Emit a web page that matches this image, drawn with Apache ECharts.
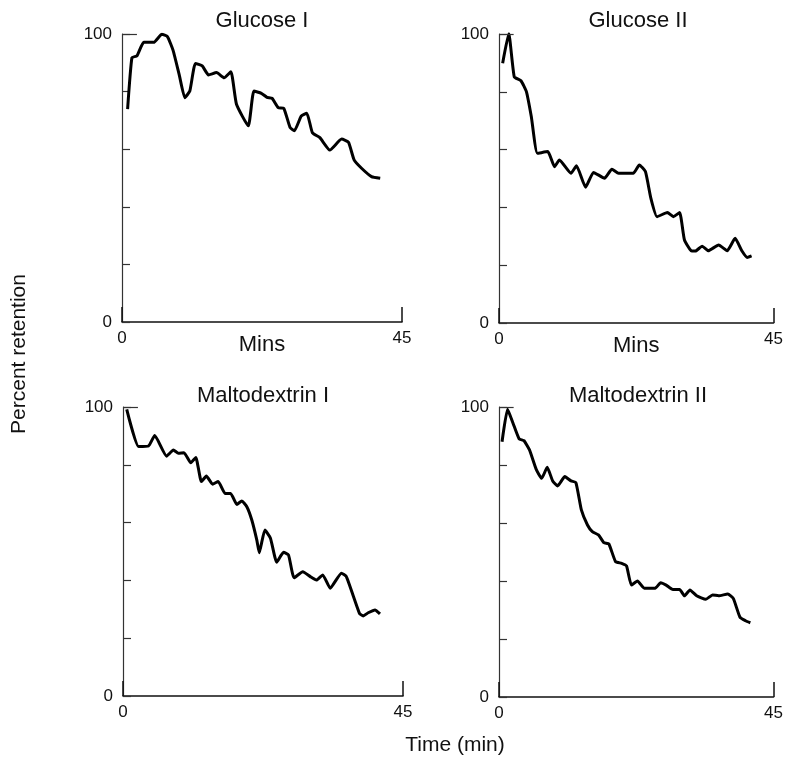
<!DOCTYPE html>
<html>
<head>
<meta charset="utf-8">
<script src="https://cdn.jsdelivr.net/npm/echarts@6/dist/echarts.min.js"></script>
<style>
  html, body { margin: 0; padding: 0; background: #fff; }
  #chart { width: 786px; height: 757px; }
</style>
</head>
<body>
<div id="chart"></div>
<script>
// panel titles
const panelTitles = ['Glucose I', 'Glucose II', 'Maltodextrin I', 'Maltodextrin II'];

// [time (min), percent retention]
const glucose1 = [
  [0.9, 73.9], [1.6, 91.8], [2.4, 92.4], [3.5, 97.1], [5.1, 97.1], [6.4, 99.9], [7.3, 99.1],
  [8.2, 94.4], [9.2, 85.8], [10.1, 77.9], [10.9, 80.2], [11.8, 89.8], [12.9, 88.9], [13.9, 85.8],
  [15.2, 86.6], [16.4, 84.8], [17.5, 86.9], [18.4, 75.6], [20.3, 68.1], [21.2, 80.2], [22.4, 79.4],
  [23.3, 78.0], [24.1, 77.7], [25.1, 74.4], [26.0, 74.2], [27.0, 67.6], [27.7, 66.4], [28.8, 71.5],
  [29.7, 72.5], [30.6, 65.7], [31.8, 64.0], [33.4, 59.7], [35.3, 63.5], [36.4, 62.4], [37.3, 56.3],
  [38.5, 53.4], [40.1, 50.5], [41.5, 49.9]
];
const glucose2 = [
  [0.6, 89.9], [1.6, 100.2], [2.5, 85.2], [3.6, 83.8], [4.5, 80.0], [5.3, 71.4], [6.3, 58.7],
  [8.0, 59.3], [9.1, 54.1], [9.9, 56.4], [11.8, 51.8], [12.7, 54.4], [14.2, 47.0], [15.5, 52.1],
  [17.3, 50.1], [18.5, 53.2], [19.6, 51.8], [22.0, 51.8], [23.0, 54.7], [24.0, 52.4], [24.9, 43.1],
  [25.9, 36.8], [27.6, 38.2], [28.6, 36.8], [29.6, 38.2], [30.4, 28.7], [31.5, 25.0], [32.2, 24.9],
  [33.3, 26.6], [34.3, 25.0], [36.0, 27.0], [37.4, 25.0], [38.7, 29.3], [39.8, 25.0], [40.7, 22.7],
  [41.4, 23.2]
];
const malto1 = [
  [0.6, 99.2], [2.5, 86.3], [4.1, 86.5], [5.1, 90.1], [7.0, 83.0], [8.1, 85.1], [8.9, 84.0],
  [9.8, 84.2], [10.9, 80.7], [11.7, 82.5], [12.6, 74.2], [13.4, 76.1], [14.4, 73.3], [15.3, 74.2],
  [16.4, 70.1], [17.3, 70.1], [18.3, 66.3], [19.1, 67.5], [19.9, 65.5], [20.7, 60.9], [21.5, 54.0],
  [21.9, 49.6], [22.8, 57.4], [23.7, 54.6], [24.7, 46.3], [25.8, 49.7], [26.6, 48.8], [27.5, 40.9],
  [28.9, 43.0], [30.1, 41.3], [31.1, 40.1], [32.1, 41.9], [33.3, 37.3], [35.1, 42.5], [35.9, 41.3],
  [38.0, 28.6], [38.6, 27.7], [39.4, 28.8], [40.5, 29.8], [41.3, 28.4]
];
const malto2 = [
  [0.5, 88.0], [1.4, 99.2], [2.3, 94.4], [3.3, 89.0], [4.1, 88.4], [5.0, 85.2], [6.1, 78.5],
  [7.0, 75.4], [7.9, 79.2], [8.8, 74.5], [9.6, 72.8], [10.8, 76.0], [11.8, 74.5], [12.6, 74.0],
  [13.5, 64.5], [14.5, 59.3], [15.3, 57.0], [16.3, 55.9], [17.2, 53.2], [18.0, 52.8], [19.1, 46.7],
  [20.1, 46.1], [20.9, 45.2], [21.7, 38.6], [22.7, 40.0], [23.8, 37.5], [25.6, 37.5], [26.5, 39.4],
  [27.4, 38.6], [28.5, 37.1], [29.6, 37.1], [30.4, 34.9], [31.3, 36.9], [32.4, 34.9], [33.9, 33.7],
  [35.0, 35.2], [36.0, 34.9], [37.5, 35.5], [38.4, 34.0], [39.5, 27.5], [40.4, 26.3], [41.2, 25.6]
];
const allSeries = [glucose1, glucose2, malto1, malto2];

// axis ranges and labelled ticks
const xRange = [0, 45];
const yRange = [0, 100];
const yStep = 20;

const grids = [
  { left: 122, top: 34, width: 280, height: 288 },
  { left: 499, top: 34, width: 278, height: 289 },
  { left: 123, top: 407, width: 280, height: 289 },
  { left: 499, top: 407, width: 278, height: 290 }
];

const font = 'Liberation Sans, Arial, sans-serif';
const ink = '#111';

const chart = echarts.init(document.getElementById('chart'));

const option = {
  animation: false,
  backgroundColor: '#fff',
  title: panelTitles.map((t, i) => ({
    text: t,
    left: grids[i].left + grids[i].width / 2,
    top: grids[i].top - (i < 2 ? 24 : 22),
    padding: 0,
    textAlign: 'center',
    textStyle: { fontFamily: font, fontSize: 22, fontWeight: 'normal', color: ink }
  })),
  grid: grids,
  xAxis: grids.map((g, i) => ({
    type: 'value',
    gridIndex: i,
    min: xRange[0],
    max: xRange[1],
    interval: 45,
    name: i < 2 ? 'Mins' : '',
    nameLocation: 'middle',
    nameGap: 12,
    nameMoveOverlap: false,
    nameTextStyle: { fontFamily: font, fontSize: 22, color: ink, verticalAlign: 'top' },
    axisLine: { lineStyle: { color: ink, width: 1.6 } },
    axisTick: { inside: true, length: 15, lineStyle: { color: ink, width: 1.5 } },
    axisLabel: { fontFamily: font, fontSize: 17, color: ink, margin: 8 },
    splitLine: { show: false }
  })),
  yAxis: grids.map((g, i) => ({
    type: 'value',
    gridIndex: i,
    min: yRange[0],
    max: yRange[1],
    interval: yStep,
    axisLine: { show: true, lineStyle: { color: '#333', width: 1.2 } },
    axisTick: { show: true, inside: true, length: 8, lineStyle: { color: '#333', width: 1.2 } },
    axisLabel: {
      fontFamily: font, fontSize: 17, color: ink, margin: 10,
      formatter: v => (v === yRange[0] || v === yRange[1]) ? String(v) : ''
    },
    splitLine: { show: false }
  })),
  graphic: [
    {
      type: 'text', x: 19, y: 354, rotation: Math.PI / 2,
      style: { text: 'Percent retention', font: '21px Liberation Sans, Arial, sans-serif', fill: ink, textAlign: 'center', textVerticalAlign: 'middle' }
    },
    {
      type: 'text', x: 455, y: 745,
      style: { text: 'Time (min)', font: '21px Liberation Sans, Arial, sans-serif', fill: ink, textAlign: 'center', textVerticalAlign: 'middle' }
    }
  ],
  series: allSeries.map((d, i) => ({
    type: 'line',
    xAxisIndex: i,
    yAxisIndex: i,
    data: d,
    showSymbol: false,
    smooth: 0.15,
    lineStyle: { color: '#000', width: 3 },
    markLine: {
      silent: true,
      symbol: 'none',
      label: { show: false },
      lineStyle: { color: '#333', width: 1.2, type: 'solid' },
      data: [[{ coord: [0, yRange[1]] }, { coord: [2.4, yRange[1]] }]]
    }
  }))
};

chart.setOption(option);
</script>
</body>
</html>
